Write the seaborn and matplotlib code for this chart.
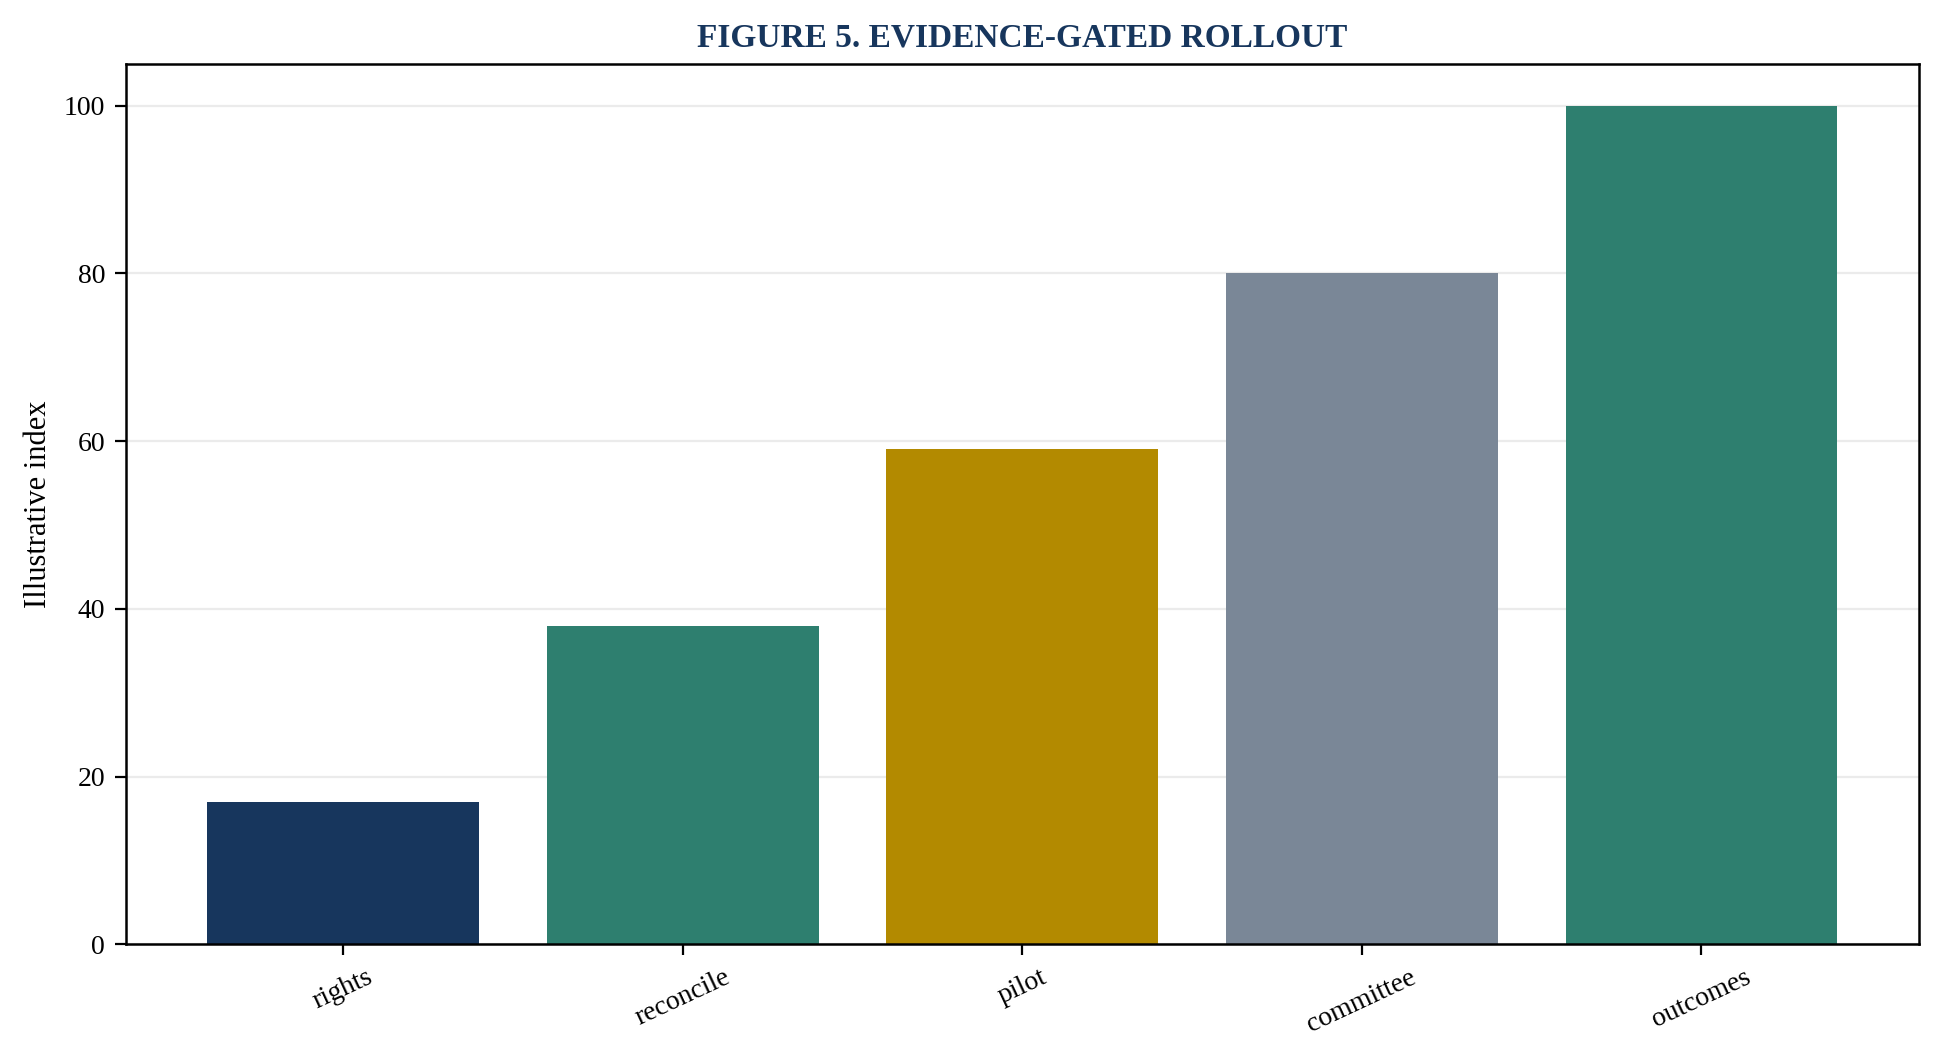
import matplotlib
matplotlib.use("Agg")
import matplotlib.pyplot as plt
import seaborn as sns
import pandas as pd

categories = ["rights", "reconcile", "pilot", "committee", "outcomes"]
values = [17, 38, 59, 80, 100]
colors = ["#17365D", "#2E7F6F", "#B38A00", "#7A8797", "#2E7F6F"]

sns.set_theme(style="white")
plt.rcParams['font.family'] = ['Liberation Serif', 'DejaVu Serif']

df = pd.DataFrame({"stage": categories, "value": values})
fig, ax = plt.subplots(figsize=(9.69, 5.305), dpi=200)
sns.barplot(data=df, x="stage", y="value", hue="stage", palette=colors,
            legend=False, ax=ax, width=0.8, saturation=1, linewidth=0)
ax.set_xlim(-0.64, 4.64)
ax.set_ylim(0, 105)
ax.set_yticks([0, 20, 40, 60, 80, 100])
ax.yaxis.grid(True, color="#ebebeb", linewidth=0.8)
ax.set_axisbelow(True)
ax.set_xlabel("")
ax.set_ylabel("Illustrative index", fontsize=11, color="black")
ax.set_title("FIGURE 5. EVIDENCE-GATED ROLLOUT", fontsize=12, fontweight="bold",
             color="#17365D")
for s in ax.spines.values():
    s.set_color("black")
    s.set_linewidth(0.9)
ax.tick_params(axis="both", which="both", length=4, width=0.8, color="black",
               labelcolor="black", labelsize=10, bottom=True, left=True)
plt.setp(ax.get_xticklabels(), rotation=25)
fig.subplots_adjust(left=0.065, right=0.99, top=0.94, bottom=0.11)
fig.savefig("out.png", dpi=200)
